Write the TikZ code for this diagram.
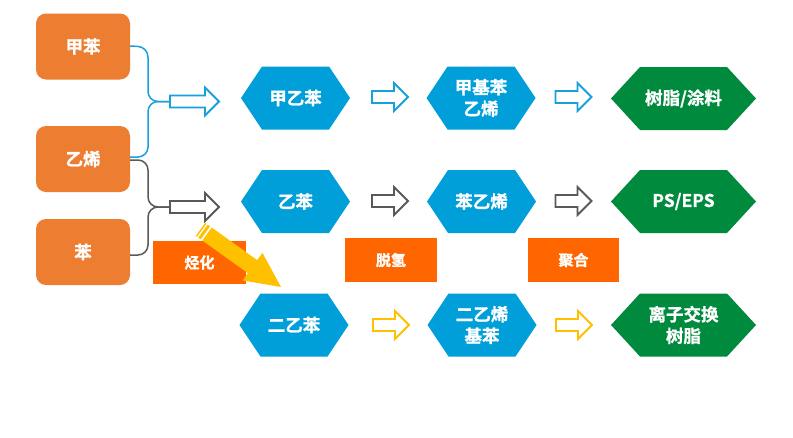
\documentclass[tikz,border=0pt]{standalone}
\usepackage{fontspec}
\setmainfont{Noto Sans CJK SC}[BoldFont={Noto Sans CJK SC Bold}, BoldFeatures={FakeBold=1.2}]
\usetikzlibrary{calc}
\definecolor{orgbox}{HTML}{ED7D31}
\definecolor{lblbox}{HTML}{FF6600}
\definecolor{hexblue}{HTML}{009FDA}
\definecolor{hexgreen}{HTML}{008A3E}
\definecolor{arrblue}{HTML}{17A0DB}
\definecolor{arrgray}{HTML}{595959}
\definecolor{arryel}{HTML}{FFC000}
\tikzset{
  srcbox/.style={fill=orgbox, rounded corners=10pt, minimum width=94pt, minimum height=66pt,
    inner sep=0pt, text=white, font=\bfseries\fontsize{17.5}{20}\selectfont},
  stepbox/.style={fill=lblbox, minimum width=92pt, minimum height=44pt, inner sep=0pt,
    text=white, font=\bfseries\fontsize{15}{18}\selectfont},
  hlbl/.style={inner sep=0pt, text=white, align=center, font=\bfseries\fontsize{17.5}{21.5}\selectfont},
  brace/.style={line width=1.5pt, rounded corners=10pt},
  harrow/.pic={\draw[pic actions, fill=white, line width=1.8pt, line join=miter]
     (0,-6) -- (#1-14,-6) -- (#1-14,-14) -- (#1,0) -- (#1-14,14) -- (#1-14,6) -- (0,6) -- cycle;}
}
% name, x, y, half width, inset, colour, text
\newcommand\hexn[7]{%
  \fill[#6] (#2-#4,#3) -- (#2-#4+#5,#3-31.5) -- (#2+#4-#5,#3-31.5) -- (#2+#4,#3)
     -- (#2+#4-#5,#3+31.5) -- (#2-#4+#5,#3+31.5) -- cycle;
  \node[hlbl] (#1) at (#2,#3) {#7};}
\begin{document}
\begin{tikzpicture}[x=1pt,y=-1pt]
\useasboundingbox (0,0) rectangle (793,437);
% source boxes
\node[srcbox] (tol) at (83,46.5) {甲苯};
\node[srcbox] (eth) at (83,159) {乙烯};
\node[srcbox] (ben) at (83,252) {苯};
% braces
\coordinate (ja) at (170,101.5);
\coordinate (ga) at (170,207);
\draw[brace, arrblue] ([yshift=0.5pt]tol.east) -- (148,47) -- (148,101.5) -- (ja);
\draw[brace, arrblue] ([yshift=2pt]eth.east) -- (148,157) -- (148,101.5) -- (ja);
\draw[brace, arrgray] ([yshift=-1pt]eth.east) -- (148,160) -- (148,207) -- (ga);
\draw[brace, arrgray] ([yshift=-3pt]ben.east) -- (148,255) -- (148,207) -- (ga);
\pic[draw=arrblue] at (ja) {harrow=49};
\pic[draw=arrgray] at (ga) {harrow=49};
% hexagons
\hexn{meb}{295.5}{98}{54.5}{21}{hexblue}{甲乙苯}
\hexn{mst}{481}{98}{54.5}{21}{hexblue}{甲基苯\\乙烯}
\hexn{res}{683.5}{98.5}{72.5}{29}{hexgreen}{树脂/涂料}
\hexn{eb}{295.5}{201.5}{54.5}{21}{hexblue}{乙苯}
\hexn{sty}{481.5}{201.5}{54.5}{21}{hexblue}{苯乙烯}
\hexn{ps}{683.5}{201.5}{72.5}{29}{hexgreen}{PS/EPS}
\hexn{deb}{294}{325}{54.5}{21}{hexblue}{二乙苯}
\hexn{dvb}{482}{325}{54.5}{21}{hexblue}{二乙烯\\基苯}
\hexn{iex}{683.5}{325}{72.5}{29}{hexgreen}{离子交换\\树脂}
% small hollow arrows
\pic[draw=arrblue] at (372,97) {harrow=36};
\pic[draw=arrblue] at (555.5,97) {harrow=36};
\pic[draw=arrgray] at (372,201) {harrow=36};
\pic[draw=arrgray] at (555.5,201) {harrow=36};
\pic[draw=arryel] at (373,325) {harrow=36};
\pic[draw=arryel] at (556,325) {harrow=36};
% step labels
\node[stepbox, minimum width=93pt, minimum height=43pt] (alk) at (199.5,262.5) {烃化};
\node[stepbox] (dehy) at (391,260) {脱氢};
\node[stepbox, minimum width=91pt] (poly) at (573.5,260) {聚合};
% yellow striped arrow
\begin{scope}[shift={(281,287)}, rotate=-35.6]
  \fill[arryel] (0,0) -- (-35,-17) -- (-35,-8) -- (-91,-8) -- (-91,8) -- (-35,8) -- (-35,17) -- cycle;
  \fill[arryel] (-99,-8) rectangle (-97.5,8);
  \fill[arryel] (-96,-8) rectangle (-93,8);
\end{scope}
\end{tikzpicture}
\end{document}
